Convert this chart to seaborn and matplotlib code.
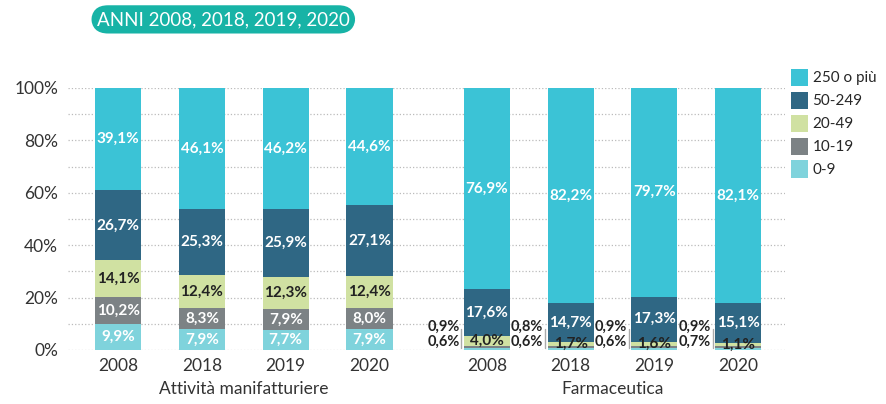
import pandas as pd
import matplotlib.pyplot as plt
from matplotlib.patches import Patch
import seaborn as sns

# dati (quote % per classe di addetti)
years = ['2008', '2018', '2019', '2020']
groups = ['Attività manifatturiere', 'Farmaceutica']
classes = ['0-9', '10-19', '20-49', '50-249', '250 o più']
colors = ['#7fd3dc', '#7c8285', '#d0e1a2', '#2f6784', '#3bc3d6']

man_0_9 = [9.9, 7.9, 7.7, 7.9]
man_10_19 = [10.2, 8.3, 7.9, 8.0]
man_20_49 = [14.1, 12.4, 12.3, 12.4]
man_50_249 = [26.7, 25.3, 25.9, 27.1]
man_250 = [39.1, 46.1, 46.2, 44.6]

far_0_9 = [0.6, 0.6, 0.6, 0.7]
far_10_19 = [0.9, 0.8, 0.9, 0.9]
far_20_49 = [4.0, 1.7, 1.6, 1.1]
far_50_249 = [17.6, 14.7, 17.3, 15.1]
far_250 = [76.9, 82.2, 79.7, 82.1]

series = {
    groups[0]: [man_0_9, man_10_19, man_20_49, man_50_249, man_250],
    groups[1]: [far_0_9, far_10_19, far_20_49, far_50_249, far_250],
}

# tabella lunga con posizione, base e cima di ogni segmento
rows = []
for gi, g in enumerate(groups):
    for yi, y in enumerate(years):
        pos = yi + gi * 4.4
        bottom = 0
        for ci, c in enumerate(classes):
            v = series[g][ci][yi]
            rows.append({'group': g, 'year': y, 'pos': pos, 'cls': c,
                         'value': v, 'bottom': bottom, 'top': bottom + v})
            bottom += v
df = pd.DataFrame(rows)

sns.set_style('white')
plt.rcParams['font.family'] = ['Lato', 'DejaVu Sans']

fig = plt.figure(figsize=(8.86, 4.04), dpi=100)
ax = fig.add_axes([0.0767, 0.1337, 0.8093, 0.6485])

width = 0.55
# barre sovrapposte: prima la cima cumulata più alta
for c, col in reversed(list(zip(classes, colors))):
    sub = df[df['cls'] == c]
    sns.barplot(data=sub, x='pos', y='top', native_scale=True, width=width,
                color=col, saturation=1, errorbar=None, linewidth=0, ax=ax)

# etichette nei segmenti
text_col = {'0-9': 'white', '10-19': 'white', '20-49': '#222222',
            '50-249': 'white', '250 o più': 'white'}
for _, r in df.iterrows():
    lab = f"{r['value']:.1f}".replace('.', ',') + '%'
    mid = (r['bottom'] + r['top']) / 2
    if r['group'] == groups[1] and r['cls'] in ('0-9', '10-19'):
        ypos = 3.0 if r['cls'] == '0-9' else 8.8
        ax.text(r['pos'] - width / 2 - 0.05, ypos, lab, ha='right', va='center',
                fontsize=10.5, fontweight='bold', color='#222222')
        continue
    ax.text(r['pos'], mid, lab, ha='center', va='center', fontsize=11,
            fontweight='bold', color=text_col[r['cls']])

# piccola parentesi grigia accanto alle etichette esterne
for p in df[df['group'] == groups[1]]['pos'].unique():
    ax.plot([p - width / 2 - 0.03] * 2, [0.6, 8.0], color='#aaaaaa', lw=1)

ax.set_ylim(0, 100)
ax.set_xlim(-0.6, 7.4 + 0.56)
ax.set_yticks(range(0, 101, 20))
ax.set_yticks(range(0, 101, 10), minor=True)
ax.set_yticklabels([f'{v}%' for v in range(0, 101, 20)], fontsize=12.5, color='#333333')
ticks = sorted(df['pos'].unique())
ax.set_xticks(ticks)
ax.set_xticklabels(years * 2, fontsize=12.5, color='#333333')
ax.tick_params(axis='both', which='both', length=0)
ax.tick_params(axis='y', pad=7)
ax.tick_params(axis='x', pad=6)
ax.set_xlabel('')
ax.set_ylabel('')
ax.grid(which='both', axis='y', linestyle=':', color='#bbbbbb', linewidth=0.9)
ax.grid(axis='x', visible=False)
ax.set_axisbelow(True)
sns.despine(ax=ax, left=True, bottom=True)

for gi, g in enumerate(groups):
    ax.text(1.5 + gi * 4.4, -0.15, g, transform=ax.get_xaxis_transform(),
            ha='center', va='center', fontsize=12.5, color='#333333')

# legenda
handles = [Patch(facecolor=col, edgecolor='none') for col in colors]
fig.legend(handles[::-1], classes[::-1], loc='upper left',
           bbox_to_anchor=(0.893, 0.83), frameon=False, fontsize=11,
           handlelength=1.1, handleheight=1.35, labelspacing=0.38,
           handletextpad=0.3, borderpad=0, borderaxespad=0)

# titolo a pillola
fig.text(0.252, 0.952, 'ANNI 2008, 2018, 2019, 2020', ha='center', va='center',
         fontsize=13.5, color='white',
         bbox=dict(boxstyle='round,pad=0.3,rounding_size=0.9', fc='#17b3a6', ec='none'))

fig.savefig('out.png', dpi=100)
plt.close(fig)
